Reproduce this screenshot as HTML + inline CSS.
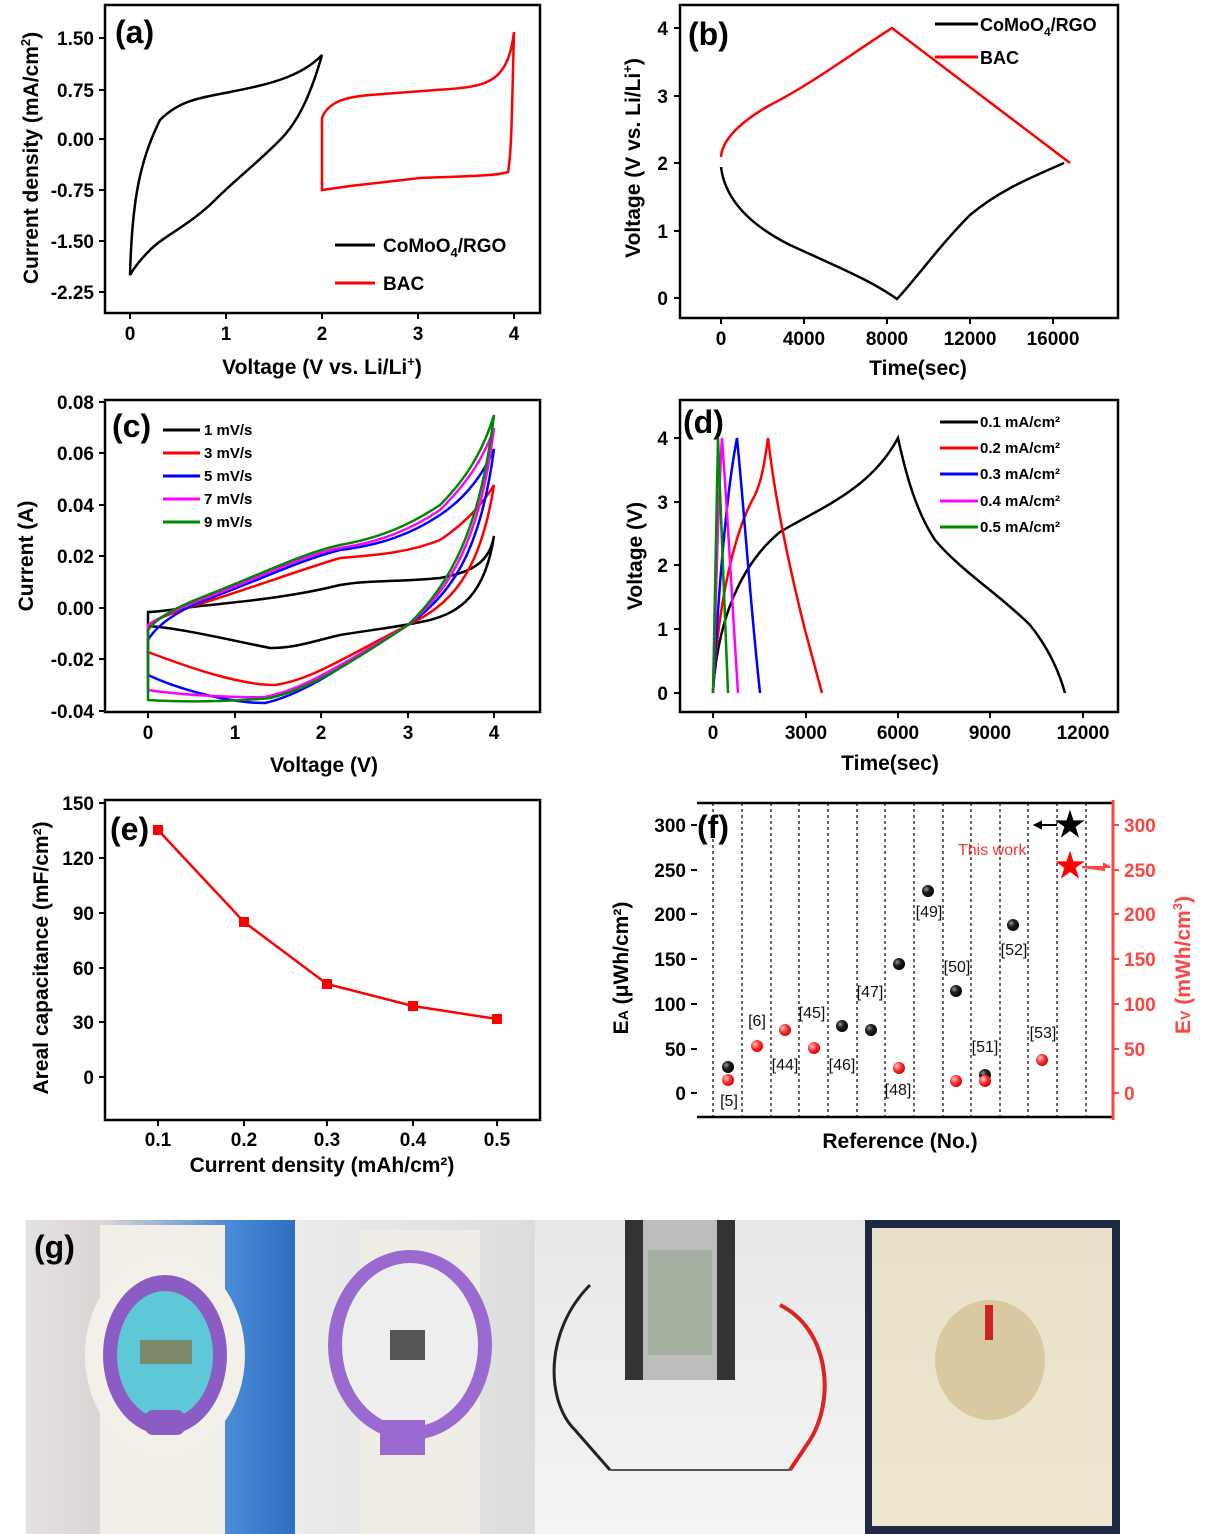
<!DOCTYPE html>
<html><head><meta charset="utf-8"><style>
body{margin:0;background:#fff;}
svg{display:block;font-family:"Liberation Sans",Arial,sans-serif;font-weight:bold;}
</style></head><body>
<svg width="1206" height="1534" viewBox="0 0 1206 1534">
<defs>
<radialGradient id="bb" cx="0.35" cy="0.35" r="0.7"><stop offset="0" stop-color="#999"/><stop offset="0.4" stop-color="#222"/><stop offset="1" stop-color="#000"/></radialGradient>
<radialGradient id="rb" cx="0.35" cy="0.35" r="0.7"><stop offset="0" stop-color="#fcc"/><stop offset="0.5" stop-color="#f33"/><stop offset="1" stop-color="#c00"/></radialGradient>
</defs>
<g fill="none" stroke="#000" stroke-width="2.5">
<rect x="105" y="5" width="435" height="308"/>
<rect x="680" y="5" width="438" height="313"/>
<rect x="105" y="400" width="435" height="312"/>
<rect x="680" y="400" width="438" height="312"/>
<rect x="105" y="800" width="435" height="320"/>
<line x1="697" y1="803" x2="1113" y2="803"/><line x1="697" y1="1117" x2="1113" y2="1117"/>
</g>
<line x1="1113" y1="800" x2="1113" y2="1120" stroke="#f44" stroke-width="3"/>
<g stroke="#000" stroke-width="2">
<path d="M105 38h-6M105 90h-6M105 139h-6M105 190h-6M105 241h-6M105 292h-6M130 313v6M226 313v6M322 313v6M418 313v6M514 313v6"/>
<path d="M680 298h-6M680 231h-6M680 163h-6M680 96h-6M680 28h-6M721 318v6M804 318v6M887 318v6M970 318v6M1053 318v6"/>
<path d="M105 402h-6M105 453h-6M105 505h-6M105 556h-6M105 608h-6M105 659h-6M105 711h-6M148 712v6M235 712v6M321 712v6M408 712v6M494 712v6"/>
<path d="M680 693h-6M680 629h-6M680 565h-6M680 502h-6M680 438h-6M713 712v6M806 712v6M898 712v6M990 712v6M1083 712v6"/>
<path d="M105 803h-6M105 858h-6M105 913h-6M105 968h-6M105 1022h-6M105 1077h-6M158 1120v6M244 1120v6M327 1120v6M413 1120v6M497 1120v6"/>
<path d="M697 825h-6M697 870h-6M697 914h-6M697 959h-6M697 1004h-6M697 1049h-6M697 1093h-6"/>
</g>
<path d="M1113 825h6M1113 870h6M1113 914h6M1113 959h6M1113 1004h6M1113 1049h6M1113 1093h6" stroke="#f44" stroke-width="2"/>
<g font-size="19" text-anchor="end">
<text x="94" y="45">1.50</text><text x="94" y="97">0.75</text><text x="94" y="146">0.00</text><text x="94" y="197">-0.75</text><text x="94" y="248">-1.50</text><text x="94" y="299">-2.25</text>
<text x="668" y="305">0</text><text x="668" y="238">1</text><text x="668" y="170">2</text><text x="668" y="103">3</text><text x="668" y="35">4</text>
<text x="94" y="409">0.08</text><text x="94" y="460">0.06</text><text x="94" y="512">0.04</text><text x="94" y="563">0.02</text><text x="94" y="615">0.00</text><text x="94" y="666">-0.02</text><text x="94" y="718">-0.04</text>
<text x="668" y="700">0</text><text x="668" y="636">1</text><text x="668" y="572">2</text><text x="668" y="509">3</text><text x="668" y="445">4</text>
<text x="94" y="810">150</text><text x="94" y="865">120</text><text x="94" y="920">90</text><text x="94" y="975">60</text><text x="94" y="1029">30</text><text x="94" y="1084">0</text>
<text x="686" y="832">300</text><text x="686" y="877">250</text><text x="686" y="921">200</text><text x="686" y="966">150</text><text x="686" y="1011">100</text><text x="686" y="1056">50</text><text x="686" y="1100">0</text>
</g>
<g font-size="19" fill="#f44"><text x="1124" y="832">300</text><text x="1124" y="877">250</text><text x="1124" y="921">200</text><text x="1124" y="966">150</text><text x="1124" y="1011">100</text><text x="1124" y="1056">50</text><text x="1124" y="1100">0</text></g>
<g font-size="19" text-anchor="middle">
<text x="130" y="340">0</text><text x="226" y="340">1</text><text x="322" y="340">2</text><text x="418" y="340">3</text><text x="514" y="340">4</text>
<text x="721" y="345">0</text><text x="804" y="345">4000</text><text x="887" y="345">8000</text><text x="970" y="345">12000</text><text x="1053" y="345">16000</text>
<text x="148" y="739">0</text><text x="235" y="739">1</text><text x="321" y="739">2</text><text x="408" y="739">3</text><text x="494" y="739">4</text>
<text x="713" y="739">0</text><text x="806" y="739">3000</text><text x="898" y="739">6000</text><text x="990" y="739">9000</text><text x="1083" y="739">12000</text>
<text x="158" y="1146">0.1</text><text x="244" y="1146">0.2</text><text x="327" y="1146">0.3</text><text x="413" y="1146">0.4</text><text x="497" y="1146">0.5</text>
</g>
<g font-size="21" text-anchor="middle">
<text x="322" y="374">Voltage (V vs. Li/Li<tspan font-size="13" dy="-8">+</tspan><tspan dy="8">)</tspan></text>
<text x="918" y="375">Time(sec)</text>
<text x="324" y="772">Voltage (V)</text>
<text x="890" y="770">Time(sec)</text>
<text x="322" y="1172">Current density (mAh/cm²)</text>
<text x="900" y="1148">Reference (No.)</text>
<text transform="translate(38 158) rotate(-90)">Current density (mA/cm<tspan font-size="13" dy="-8">2</tspan><tspan dy="8">)</tspan></text>
<text transform="translate(640 158) rotate(-90)">Voltage (V vs. Li/Li<tspan font-size="13" dy="-8">+</tspan><tspan dy="8">)</tspan></text>
<text transform="translate(33 556) rotate(-90)">Current (A)</text>
<text transform="translate(642 556) rotate(-90)">Voltage (V)</text>
<text transform="translate(48 958) rotate(-90)">Areal capacitance (mF/cm²)</text>
<text transform="translate(628 968) rotate(-90)">E<tspan font-size="14">A</tspan> (μWh/cm²)</text>
<text transform="translate(1190 965) rotate(-90)" fill="#f44">E<tspan font-size="14">V</tspan> (mWh/cm<tspan font-size="13" dy="-8">3</tspan><tspan dy="8">)</tspan></text>
</g>
<g font-size="32"><text x="115" y="43">(a)</text><text x="688" y="45">(b)</text><text x="112" y="437">(c)</text><text x="683" y="433">(d)</text><text x="110" y="840">(e)</text><text x="697" y="838">(f)</text></g>
<!-- (a) -->
<path d="M130 275 C132 200 140 160 160 120 C180 100 200 98 230 92 C265 85 300 78 322 55 C312 90 300 120 280 140 C255 165 235 180 215 200 C190 225 165 235 150 250 C140 260 134 268 130 275Z" fill="none" stroke="#000" stroke-width="2.5"/>
<path d="M322 190 L322 118 C328 102 345 97 370 95 L450 89 C490 86 508 80 514 32 C512 100 512 150 508 172 C495 176 470 176 420 178 L350 186 Z" fill="none" stroke="#f00" stroke-width="2.5"/>
<line x1="335" y1="245" x2="375" y2="245" stroke="#000" stroke-width="3"/><text x="383" y="252" font-size="19">CoMoO<tspan font-size="13" dy="5">4</tspan><tspan dy="-5">/RGO</tspan></text>
<line x1="335" y1="283" x2="375" y2="283" stroke="#f00" stroke-width="3"/><text x="383" y="290" font-size="19">BAC</text>
<!-- (b) -->
<path d="M721 157 C722 140 740 122 770 105 C810 85 850 55 892 28 L1070 163" fill="none" stroke="#f00" stroke-width="2.5"/>
<path d="M721 167 C725 200 750 225 790 245 C840 268 870 280 897 299 C915 280 940 245 970 215 C1000 190 1030 178 1064 163" fill="none" stroke="#000" stroke-width="2.5"/>
<line x1="935" y1="24" x2="978" y2="24" stroke="#000" stroke-width="3"/><text x="980" y="31" font-size="18">CoMoO<tspan font-size="12" dy="5">4</tspan><tspan dy="-5">/RGO</tspan></text>
<line x1="935" y1="57" x2="978" y2="57" stroke="#f00" stroke-width="3"/><text x="980" y="64" font-size="18">BAC</text>
<!-- (c) -->
<g fill="none" stroke-width="2.5">
<path d="M148 626 C180 628 230 640 270 648 C295 648 310 642 340 635 C370 630 400 627 430 620 C460 612 485 595 494 536 C490 560 475 572 440 578 C400 582 370 580 340 585 C300 595 260 600 200 606 C175 609 160 612 148 612 Z" stroke="#000"/>
<path d="M148 652 C190 668 240 685 275 685 C310 680 340 660 408 625 C450 605 480 575 494 485 C485 500 470 520 440 540 C410 552 380 555 340 558 C300 570 260 585 200 604 C170 613 155 620 148 625 Z" stroke="#f00"/>
<path d="M148 675 C180 690 230 703 265 703 C300 695 330 675 408 625 C450 595 480 555 494 449 C485 470 470 495 440 515 C410 535 380 545 340 550 C300 560 260 580 200 602 C170 615 155 628 148 640 Z" stroke="#00f"/>
<path d="M148 690 C180 695 240 698 265 697 C300 690 330 672 408 625 C450 590 480 540 494 428 C485 455 470 480 440 510 C410 530 380 542 340 548 C300 556 260 578 200 600 C170 612 155 620 148 625 Z" stroke="#f0f"/>
<path d="M148 700 C180 702 230 702 270 698 C305 690 340 670 408 625 C450 585 480 530 494 415 C485 445 470 475 440 505 C410 525 380 538 340 545 C300 554 260 575 200 598 C170 610 155 620 148 630 Z" stroke="#080"/>
</g>
<g font-size="15"><line x1="163" y1="430" x2="200" y2="430" stroke="#000" stroke-width="3"/><text x="204" y="435">1 mV/s</text>
<line x1="163" y1="453" x2="200" y2="453" stroke="#f00" stroke-width="3"/><text x="204" y="458">3 mV/s</text>
<line x1="163" y1="476" x2="200" y2="476" stroke="#00f" stroke-width="3"/><text x="204" y="481">5 mV/s</text>
<line x1="163" y1="499" x2="200" y2="499" stroke="#f0f" stroke-width="3"/><text x="204" y="504">7 mV/s</text>
<line x1="163" y1="522" x2="200" y2="522" stroke="#080" stroke-width="3"/><text x="204" y="527">9 mV/s</text></g>
<!-- (d) -->
<g fill="none" stroke-width="2.5">
<path d="M713 690 C718 620 740 565 780 532 C820 508 870 490 898 438 C905 470 915 510 935 540 C960 570 1000 595 1030 625 C1050 650 1060 675 1065 693" stroke="#000"/>
<path d="M713 693 C718 600 735 530 755 495 C762 480 765 460 768 438 C775 500 790 570 805 630 L822 693" stroke="#f00"/>
<path d="M713 693 C718 600 725 500 737 438 C745 520 750 600 760 693" stroke="#00f"/>
<path d="M713 693 C716 600 718 500 722 438 C728 520 732 600 738 693" stroke="#f0f"/>
<path d="M713 693 C715 600 716 500 718 438 C721 520 724 600 728 693" stroke="#080"/>
</g>
<g font-size="15"><line x1="940" y1="422" x2="978" y2="422" stroke="#000" stroke-width="3"/><text x="980" y="427">0.1 mA/cm²</text>
<line x1="940" y1="448" x2="978" y2="448" stroke="#f00" stroke-width="3"/><text x="980" y="453">0.2 mA/cm²</text>
<line x1="940" y1="474" x2="978" y2="474" stroke="#00f" stroke-width="3"/><text x="980" y="479">0.3 mA/cm²</text>
<line x1="940" y1="501" x2="978" y2="501" stroke="#f0f" stroke-width="3"/><text x="980" y="506">0.4 mA/cm²</text>
<line x1="940" y1="527" x2="978" y2="527" stroke="#080" stroke-width="3"/><text x="980" y="532">0.5 mA/cm²</text></g>
<!-- (e) -->
<polyline points="158,830 244,922 327,984 413,1006 497,1019" fill="none" stroke="#f00" stroke-width="2.5"/>
<g fill="#f00"><rect x="153" y="825" width="10" height="10"/><rect x="239" y="917" width="10" height="10"/><rect x="322" y="979" width="10" height="10"/><rect x="408" y="1001" width="10" height="10"/><rect x="492" y="1014" width="10" height="10"/></g>
<!-- (f) -->
<path d="M713 803V1117M742 803V1117M771 803V1117M799 803V1117M828 803V1117M857 803V1117M885 803V1117M914 803V1117M943 803V1117M971 803V1117M1000 803V1117M1028 803V1117M1057 803V1117M1086 803V1117" stroke="#000" stroke-width="1.2" stroke-dasharray="3,3"/>
<g fill="url(#bb)"><circle cx="728" cy="1067" r="6"/><circle cx="842" cy="1026" r="6"/><circle cx="871" cy="1030" r="6"/><circle cx="899" cy="964" r="6"/><circle cx="928" cy="891" r="6"/><circle cx="956" cy="991" r="6"/><circle cx="985" cy="1075" r="6"/><circle cx="1013" cy="925" r="6"/></g>
<g fill="url(#rb)"><circle cx="728" cy="1080" r="6"/><circle cx="757" cy="1046" r="6"/><circle cx="785" cy="1030" r="6"/><circle cx="814" cy="1048" r="6"/><circle cx="899" cy="1068" r="6"/><circle cx="956" cy="1081" r="6"/><circle cx="985" cy="1081" r="6"/><circle cx="1042" cy="1060" r="6"/></g>
<g font-size="16" text-anchor="middle" fill="#111" style="font-weight:normal">
<text x="729" y="1106">[5]</text><text x="757" y="1026">[6]</text><text x="785" y="1070">[44]</text><text x="812" y="1018">[45]</text><text x="842" y="1070">[46]</text><text x="870" y="997">[47]</text><text x="898" y="1095">[48]</text><text x="929" y="917">[49]</text><text x="957" y="972">[50]</text><text x="985" y="1052">[51]</text><text x="1014" y="955">[52]</text><text x="1043" y="1038">[53]</text></g>
<text x="958" y="855" font-size="16" fill="#f33" style="font-weight:normal">This work</text>
<text x="1070" y="836" font-size="34" text-anchor="middle">★</text>
<text x="1070" y="877" font-size="34" text-anchor="middle" fill="#f00">★</text>
<path d="M1035 825h22M1035 825l6-3v6z" stroke="#000" stroke-width="2"/>
<path d="M1082 867h28l-6-3v6z" stroke="#f44" stroke-width="2" fill="#f44"/>
<!-- (g) photos -->
<defs>
<linearGradient id="p1" x1="0" x2="1"><stop offset="0" stop-color="#e4e2e0"/><stop offset="0.3" stop-color="#d8d4d4"/><stop offset="0.75" stop-color="#4a8bd6"/><stop offset="1" stop-color="#2f6fc0"/></linearGradient>
<linearGradient id="p2" x1="0" x2="1"><stop offset="0" stop-color="#ececec"/><stop offset="1" stop-color="#dcdcdc"/></linearGradient>
<linearGradient id="p3" x1="0" y1="0" x2="0" y2="1"><stop offset="0" stop-color="#e8e8e8"/><stop offset="1" stop-color="#f4f4f4"/></linearGradient>
<linearGradient id="p4" x1="0" y1="0" x2="0" y2="1"><stop offset="0" stop-color="#e8e0c8"/><stop offset="1" stop-color="#efe6cf"/></linearGradient>
</defs>
<rect x="26" y="1220" width="269" height="314" fill="url(#p1)"/>
<rect x="100" y="1225" width="125" height="309" fill="#f2efe8"/>
<ellipse cx="165" cy="1355" rx="80" ry="100" fill="#f3f0ea"/>
<ellipse cx="165" cy="1355" rx="62" ry="80" fill="#8a5cc4"/>
<ellipse cx="165" cy="1355" rx="48" ry="64" fill="#5ec8d8"/>
<rect x="140" y="1340" width="52" height="24" fill="#7a8a6a"/>
<rect x="145" y="1410" width="40" height="25" rx="8" fill="#8a5cc4"/>
<text x="34" y="1258" font-size="32">(g)</text>
<rect x="295" y="1220" width="240" height="314" fill="url(#p2)"/>
<rect x="360" y="1230" width="120" height="304" fill="#f0ede6"/>
<ellipse cx="410" cy="1345" rx="82" ry="95" fill="#9a6ad0"/>
<ellipse cx="410" cy="1345" rx="68" ry="82" fill="#eeeeee"/>
<rect x="390" y="1330" width="35" height="30" fill="#555"/>
<rect x="380" y="1420" width="45" height="35" fill="#9a6ad0"/>
<rect x="535" y="1220" width="330" height="314" fill="url(#p3)"/>
<rect x="625" y="1220" width="110" height="160" fill="#bdbdbd"/>
<rect x="625" y="1220" width="18" height="160" fill="#333"/><rect x="717" y="1220" width="18" height="160" fill="#333"/>
<rect x="648" y="1250" width="64" height="105" fill="#a6b0a0"/>
<path d="M590 1285 C545 1330 545 1400 575 1430 L610 1470" stroke="#222" stroke-width="3" fill="none"/>
<path d="M780 1305 C830 1330 835 1400 810 1440 L790 1470" stroke="#d22" stroke-width="4" fill="none"/>
<path d="M610 1470 L790 1470" stroke="#555" stroke-width="2"/>
<rect x="865" y="1220" width="255" height="314" fill="#1e2a44"/>
<rect x="872" y="1228" width="240" height="298" fill="url(#p4)"/>
<ellipse cx="990" cy="1360" rx="55" ry="60" fill="#d9c9a0"/>
<rect x="985" y="1305" width="8" height="35" fill="#c22"/>
</svg>
</body></html>
